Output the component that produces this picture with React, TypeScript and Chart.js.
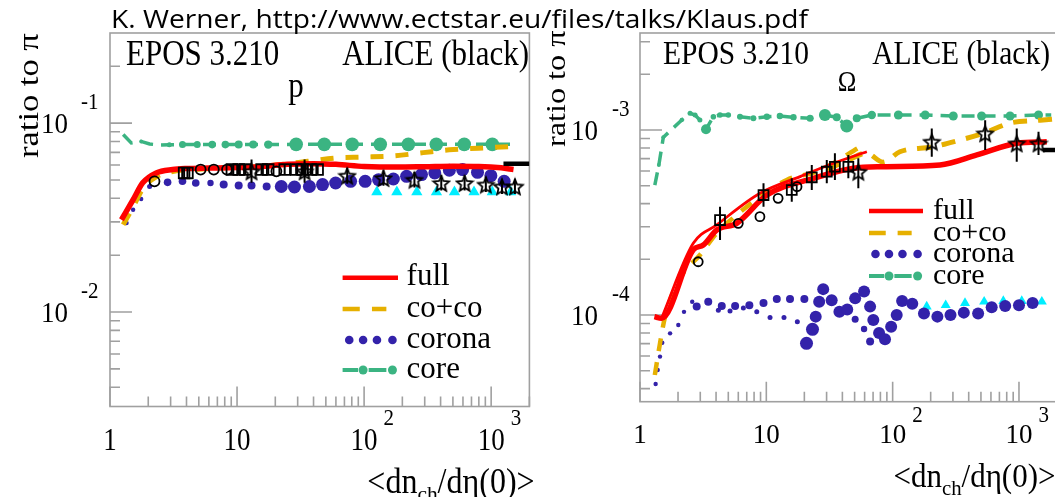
import React, { useEffect, useRef } from 'react';
import { Chart, registerables } from 'chart.js';

Chart.register(...registerables);

const SERIF = '"Liberation Serif", "Times New Roman", serif';
const SANS = '"Open Sans", "Liberation Sans", sans-serif';

const RED = '#ff0000';
const GOLD = '#e6b000';
const BLUE = '#3322aa';
const GREEN = '#3bb482';
const CYAN = '#00eeff';
const FRAME = '#a0a0a0';
const INK = '#000000';

const TITLE = 'K. Werner, http://www.ectstar.eu/files/talks/Klaus.pdf';
const MODEL_LABEL = 'EPOS 3.210';
const DATA_LABEL = 'ALICE (black)';
const Y_TITLE = 'ratio to π';
const LEGEND_LABELS = ['full', 'co+co', 'corona', 'core'];

const xTickVals = [1, 10, 100, 1000];
const xTickBase = ['1', '10', '10', '10'];
const xTickExp = ['', '', '2', '3'];

/* ---------------- p / π ---------------- */
const pYTickVals = [0.01, 0.1];
const pYTickExp = ['-2', '-1'];

const pFullX = [1.23, 1.52, 1.81, 2.31, 3.11, 4, 6, 10, 15, 25, 40, 60, 100, 180, 300, 500, 800, 1200, 1500];
const pFullY = [0.0308, 0.0393, 0.0483, 0.0545, 0.0568, 0.0575, 0.0578, 0.0582, 0.0588, 0.0605, 0.061, 0.0605, 0.059, 0.0585, 0.0588, 0.0592, 0.059, 0.058, 0.0568];

const pCocoX = [1.27, 1.52, 1.81, 2.31, 3.11, 5, 8, 13, 20, 36, 59.6, 99, 170, 292, 467, 796, 1370, 1550];
const pCocoY = [0.029, 0.036, 0.045, 0.052, 0.0555, 0.057, 0.058, 0.0585, 0.06, 0.0628, 0.0654, 0.0661, 0.0671, 0.0698, 0.0722, 0.0737, 0.0751, 0.0755];

const pCoronaX = [1.35, 1.52, 1.76, 2.05, 2.84, 3.72, 4.73, 6.18, 7.85, 10.3, 13.0, 17.1, 22.3, 28.3, 37.1, 47.1, 59.7, 78.3, 102, 130, 170, 216, 283, 360, 469, 596, 781, 995, 1265];
const pCoronaY = [0.0296, 0.0348, 0.0397, 0.0462, 0.0486, 0.0492, 0.0482, 0.0482, 0.0473, 0.0468, 0.0468, 0.0462, 0.0462, 0.0459, 0.0462, 0.0473, 0.0482, 0.0492, 0.0492, 0.0502, 0.0506, 0.0523, 0.0534, 0.0545, 0.0563, 0.0568, 0.0549, 0.0527, 0.0492];
const pCoronaR = [2.2, 2.2, 2.2, 2.5, 3.8, 3.8, 3.8, 3.2, 4, 4, 4, 4, 6.5, 6.5, 6.5, 6.5, 6.5, 6.5, 6.5, 6.5, 6.5, 6.5, 6.5, 6.5, 6.5, 6.5, 6.5, 6.5, 6.5];

const pCoreX = [1.27, 1.47, 1.76, 2.05, 2.5, 2.93, 3.72, 4.86, 6.37, 8.09, 10.3, 13.4, 17.6, 29.2, 48.6, 80.6, 134, 223, 370, 614, 1021, 1506];
const pCoreY = [0.087, 0.0785, 0.08, 0.0775, 0.0765, 0.0768, 0.077, 0.077, 0.077, 0.077, 0.077, 0.077, 0.077, 0.0772, 0.0772, 0.0772, 0.0772, 0.0772, 0.0772, 0.0772, 0.0772, 0.0772];
const pCoreR = [0, 0, 2, 0, 0, 2.5, 3.5, 3.5, 3.8, 3.8, 4, 4, 4.2, 6.8, 6.8, 6.8, 6.8, 6.8, 6.8, 6.8, 6.8, 0];

const pTriX = [126, 181, 260, 371, 514, 733, 1021, 1425];
const pTriY = [0.0432, 0.0432, 0.0432, 0.0432, 0.0432, 0.0432, 0.0432, 0.0432];

const pCircX = [2.24, 5.17, 6.56, 8.34, 20.4];
const pCircY = [0.0492, 0.0568, 0.0568, 0.0568, 0.0556];

const pSqX = [3.83, 4.07, 9.1, 10.3, 11.6, 15.6, 17.6, 23.7, 29.2, 32.8, 38.2, 43.1];
const pSqY = [0.0545, 0.0545, 0.0568, 0.0568, 0.0568, 0.0568, 0.0568, 0.0568, 0.0568, 0.0568, 0.0568, 0.0568];
const pSqLo = [0.0512, 0.0512, 0.0534, 0.0534, 0.0534, 0.0534, 0.0534, 0.0534, 0.0534, 0.0534, 0.0534, 0.0534];
const pSqHi = [0.0578, 0.0578, 0.0602, 0.0602, 0.0602, 0.0602, 0.0602, 0.0602, 0.0602, 0.0602, 0.0602, 0.0602];

const pStarX = [13.0, 34.0, 73.6, 142, 249, 405, 618, 908, 1217, 1539];
const pStarY = [0.0556, 0.0556, 0.0527, 0.0512, 0.0502, 0.0482, 0.0482, 0.0473, 0.0462, 0.0462];
const pStarLo = [0.0483, 0.0483, 0.0478, 0.0466, 0.0457, 0.044, 0.044, 0.0432, 0.0422, 0.0422];
const pStarHi = [0.0642, 0.0642, 0.058, 0.0563, 0.0552, 0.053, 0.053, 0.052, 0.0508, 0.0508];

const pBarX = [1250, 2000];
const pBarY = [0.061, 0.061];

/* ---------------- Ω / π ---------------- */
const oYTickVals = [1e-4, 1e-3];
const oYTickExp = ['-4', '-3'];

const oFullAX = [1.3, 1.48, 2.64, 3.17, 4.05, 5.83, 10.1, 23.6, 48.8, 84.2, 237, 464, 960, 1660];
const oFullAY = [9.8e-5, 9.6e-5, 2.25e-4, 2.39e-4, 2.88e-4, 3.13e-4, 4.45e-4, 5.48e-4, 6.21e-4, 6.33e-4, 6.47e-4, 7.33e-4, 8.47e-4, 8.64e-4];

const oFullBX = [1.48, 2.64, 4.05, 8.9, 18.5, 34, 62.5];
const oFullBY = [9.6e-5, 2.44e-4, 3.07e-4, 4.55e-4, 5.6e-4, 6.61e-4, 7.63e-4];

const oCocoAX = [1.31, 1.44, 1.58, 2.07, 2.98, 4.05, 4.86, 14.5, 25, 58.6];
const oCocoAY = [4.74e-5, 7.03e-5, 9.8e-5, 1.58e-4, 2.11e-4, 2.77e-4, 3.13e-4, 5.37e-4, 5.95e-4, 8.3e-4];

const oCocoBX = [30, 45, 62, 84, 114, 210, 343, 525, 850, 1475, 2000];
const oCocoBY = [6.1e-4, 6.9e-4, 7.5e-4, 6.7e-4, 7.63e-4, 8.12e-4, 8.83e-4, 9.6e-4, 1.09e-3, 1.13e-3, 1.15e-3];

const oCoronaX = [
  1.33, 1.38, 1.44, 1.5, 1.73, 2.01, 2.23, 2.59,
  2.81, 3.47, 4.44, 5.66, 7.34, 9.5, 12.1, 15.4, 20.0,
  4.17, 5.16, 6.58, 8.4, 10.7, 13.8, 17.6,
  20.8, 23.2, 24.6, 26.2, 28.2, 32.9, 37.9, 43.7, 50.5, 50.5, 59.4, 59.4, 66.3, 66.3, 70.3,
  78.1, 87.0, 97.3, 107.7, 118.8, 143, 177, 226, 287, 366, 475, 608, 778, 1000, 1282,
];
const oCoronaY = [
  4.24e-5, 5.04e-5, 5.96e-5, 7.08e-5, 7.96e-5, 8.83e-5, 1.04e-4, 1.18e-4,
  1.11e-4, 1.18e-4, 1.12e-4, 1.12e-4, 1.13e-4, 1.16e-4, 1.22e-4, 1.22e-4, 1.22e-4,
  1.06e-4, 1.05e-4, 1.09e-4, 1.04e-4, 9.7e-5, 9.7e-5, 9.2e-5,
  7.03e-5, 8.37e-5, 9.8e-5, 1.18e-4, 1.38e-4, 1.2e-4, 1.04e-4, 1.07e-4, 1.23e-4, 9.5e-5, 1.34e-4, 8.4e-5, 1.11e-4, 7.18e-5, 9.4e-5,
  8.0e-5, 7.4e-5, 8.65e-5, 1.0e-4, 1.19e-4, 1.15e-4, 1.02e-4, 9.8e-5, 1.0e-4, 1.03e-4, 1.02e-4, 1.1e-4, 1.12e-4, 1.13e-4, 1.16e-4,
];
const oCoronaR = [
  2.2, 2.2, 2.2, 2.2, 2.2, 2.2, 2.2, 2.2,
  4, 4, 4, 4, 4, 4, 4, 4, 4,
  2.5, 2.5, 2.5, 2.5, 2.5, 2.5, 2.5,
  6.5, 6.5, 6, 6, 6, 6, 6, 6, 6, 3.5, 6, 3.2, 6, 4, 6,
  6, 6, 6, 6, 6, 6, 6, 6, 6, 6, 6, 6, 6, 6, 6,
];

const oCoreX = [1.31, 1.41, 1.53, 2.14, 2.49, 2.73, 2.98, 3.33, 3.81, 4.3, 5.0, 6.19, 7.9, 10.1, 12.8, 16.4, 22.2, 29.1, 36.1, 43.3, 52.0, 68.4, 111, 181, 302, 506, 850, 1428, 1800];
const oCoreY = [5.04e-4, 6.47e-4, 9.13e-4, 1.132e-3, 1.231e-3, 1.205e-3, 1.132e-3, 1.009e-3, 1.18e-3, 1.205e-3, 1.205e-3, 1.18e-3, 1.157e-3, 1.18e-3, 1.19e-3, 1.171e-3, 1.157e-3, 1.205e-3, 1.171e-3, 1.051e-3, 1.157e-3, 1.205e-3, 1.205e-3, 1.205e-3, 1.19e-3, 1.19e-3, 1.19e-3, 1.205e-3, 1.205e-3];
const oCoreR = [0, 2, 2, 2.2, 2.5, 2.5, 2.5, 5, 2.8, 2.8, 2.8, 3, 3, 3.2, 3.2, 3.2, 3.5, 6, 4, 6.5, 4, 4.2, 4.5, 4.5, 4.5, 4.5, 4.5, 4.5, 0];

const oTriX = [186, 263, 374, 530, 752, 1052, 1517];
const oTriY = [1.11e-4, 1.13e-4, 1.16e-4, 1.18e-4, 1.19e-4, 1.19e-4, 1.18e-4];

const oCircX = [2.89, 6.0, 8.9, 12.4, 17.5];
const oCircY = [1.94e-4, 3.13e-4, 3.4e-4, 4.27e-4, 4.94e-4];

const oSqX = [4.3, 9.5, 15.9, 22.9, 30.1, 34.9, 44.6];
const oSqY = [3.26e-4, 4.45e-4, 4.74e-4, 5.55e-4, 5.95e-4, 6.33e-4, 6.33e-4];
const oSqLo = [2.54e-4, 3.85e-4, 4.1e-4, 4.74e-4, 5.15e-4, 5.37e-4, 5.48e-4];
const oSqHi = [3.85e-4, 5.15e-4, 5.48e-4, 6.47e-4, 6.89e-4, 7.48e-4, 7.32e-4];

const oStarX = [53.5, 204, 540, 960, 1428];
const oStarY = [5.95e-4, 8.65e-4, 9.6e-4, 8.47e-4, 8.47e-4];
const oStarLo = [4.84e-4, 7.17e-4, 7.8e-4, 6.74e-4, 7.33e-4];
const oStarHi = [7.03e-4, 1.02e-3, 1.13e-3, 1.02e-3, 9.79e-4];

const oBarX = [1550, 2000];
const oBarY = [7.8e-4, 7.8e-4];

/* ---------------- helpers ---------------- */
const pts = (xs: number[], ys: number[]) => xs.map((x, i) => ({ x, y: ys[i] }));

function lineSet(data: any[], color: string, width: number, dash: number[], order: number) {
  return {
    data,
    showLine: true,
    borderColor: color,
    backgroundColor: color,
    borderWidth: width,
    borderDash: dash,
    pointRadius: 0,
    pointHoverRadius: 0,
    cubicInterpolationMode: 'monotone',
    order,
  };
}

function markerSet(data: any[], style: any, radius: any, order: number, fill: string, stroke: string, strokeW: number, extra: any = {}) {
  return {
    data,
    showLine: false,
    pointStyle: style,
    pointRadius: radius,
    pointHoverRadius: radius,
    pointBackgroundColor: fill,
    pointBorderColor: stroke,
    pointBorderWidth: strokeW,
    backgroundColor: fill,
    borderColor: stroke,
    order,
    ...extra,
  };
}

function coreSet(data: any[], radii: number[], order: number) {
  return {
    data,
    showLine: true,
    borderColor: GREEN,
    backgroundColor: GREEN,
    borderWidth: 3.5,
    borderDash: [13, 8],
    pointRadius: radii,
    pointHoverRadius: radii,
    pointBackgroundColor: GREEN,
    pointBorderWidth: 0,
    tension: 0,
    order,
  };
}

// open five-pointed star used for the ALICE high-multiplicity points
function makeStar(size: number, lw: number) {
  const c = document.createElement('canvas');
  c.width = size;
  c.height = size;
  const g = c.getContext('2d')!;
  const cx = size / 2;
  const cy = size / 2 + size * 0.05;
  const R = size / 2 - lw;
  const r = R * 0.45;
  g.beginPath();
  for (let i = 0; i < 10; i++) {
    const ang = -Math.PI / 2 + (i * Math.PI) / 5;
    const rad = i % 2 === 0 ? R : r;
    g.lineTo(cx + rad * Math.cos(ang), cy + rad * Math.sin(ang));
  }
  g.closePath();
  g.lineWidth = lw;
  g.lineJoin = 'miter';
  g.strokeStyle = INK;
  g.stroke();
  return c;
}

type TextOpts = { align?: CanvasTextAlign; sx?: number; sy?: number; rot?: number; font?: string };

function drawText(ctx: CanvasRenderingContext2D, s: string, x: number, y: number, size: number, o: TextOpts = {}) {
  ctx.save();
  ctx.translate(x, y);
  if (o.rot) ctx.rotate(o.rot);
  ctx.scale(o.sx ?? 1, o.sy ?? 1);
  ctx.font = `${size}px ${o.font ?? SERIF}`;
  ctx.fillStyle = INK;
  ctx.textAlign = o.align ?? 'left';
  ctx.textBaseline = 'alphabetic';
  ctx.fillText(s, 0, 0);
  ctx.restore();
}

function measure(ctx: CanvasRenderingContext2D, s: string, size: number, font = SERIF) {
  ctx.save();
  ctx.font = `${size}px ${font}`;
  const w = ctx.measureText(s).width;
  ctx.restore();
  return w;
}

/* ---------------- panel decoration ---------------- */
function decorPlugin(L: any) {
  return {
    id: 'panelDecor',
    beforeDatasetsDraw(chart: any) {
      const { ctx, chartArea: a } = chart;
      const xs = chart.scales.x;
      const ys = chart.scales.y;
      ctx.save();
      ctx.strokeStyle = FRAME;
      ctx.lineWidth = 1.6;
      ctx.strokeRect(a.left, a.top, a.right - a.left, a.bottom - a.top);
      ctx.beginPath();
      for (let d = 1; d <= 1e4; d *= 10) {
        for (let m = 1; m < 10; m++) {
          const v = d * m;
          if (v < xs.min || v > xs.max) continue;
          const px = xs.getPixelForValue(v);
          ctx.moveTo(px, a.bottom);
          ctx.lineTo(px, a.bottom - (m === 1 ? 20 : 10));
        }
      }
      for (let e = -6; e <= 0; e++) {
        for (let m = 1; m < 10; m++) {
          const v = m * Math.pow(10, e);
          if (v < ys.min || v > ys.max * 0.995) continue;
          const py = ys.getPixelForValue(v);
          ctx.moveTo(a.left, py);
          ctx.lineTo(a.left + (m === 1 ? 22 : 10), py);
        }
      }
      ctx.stroke();
      ctx.restore();
    },
    afterDatasetsDraw(chart: any) {
      const { ctx } = chart;
      const xs = chart.scales.x;
      const ys = chart.scales.y;
      ctx.save();
      ctx.strokeStyle = INK;
      ctx.lineWidth = 2;
      ctx.beginPath();
      chart.data.datasets.forEach((ds: any) => {
        if (!ds.errLo) return;
        ds.data.forEach((p: any, j: number) => {
          const px = xs.getPixelForValue(p.x);
          ctx.moveTo(px, ys.getPixelForValue(ds.errLo[j]));
          ctx.lineTo(px, ys.getPixelForValue(ds.errHi[j]));
        });
      });
      ctx.stroke();
      ctx.restore();
    },
    afterDraw(chart: any) {
      const { ctx } = chart;
      const xs = chart.scales.x;
      const ys = chart.scales.y;
      const off = L.offsetX;
      ctx.save();
      ctx.translate(-off, 0);

      // slide caption spanning both panels
      const tw = measure(ctx, TITLE, 25, SANS);
      drawText(ctx, TITLE, 111, 28.3, 25, { font: SANS, sx: 697 / tw });

      // header line
      drawText(ctx, MODEL_LABEL, L.headerLeftX, L.headerBase, L.headerSize, { sy: 1.15 });
      drawText(ctx, DATA_LABEL, L.headerRightX, L.headerBase, L.headerSize, { sy: 1.15, align: 'right' });
      drawText(ctx, L.particle, L.particleX, L.particleBase, L.particleSize, { sy: 1.15, align: 'center' });

      // y axis title
      drawText(ctx, Y_TITLE, L.yTitleX, L.yTitleY, L.yTitleSize, { rot: -Math.PI / 2, sx: 1.15 });

      // y tick labels
      L.yTickVals.forEach((v: number, i: number) => {
        const py = ys.getPixelForValue(v);
        drawText(ctx, '10', L.yLabelRight, py + 10, 27, { align: 'right', sy: 1.12 });
        drawText(ctx, L.yTickExp[i], L.ySupLeft, py - 14, 21, { sy: 1.1 });
      });

      // x tick labels
      xTickVals.forEach((v: number, i: number) => {
        const px = xs.getPixelForValue(v) + off;
        drawText(ctx, xTickBase[i], px, L.xLabelBase, L.xLabelSize, { align: 'center', sy: L.xLabelSy });
        if (xTickExp[i]) {
          const half = measure(ctx, xTickBase[i], L.xLabelSize) / 2;
          drawText(ctx, xTickExp[i], px + half + 6, L.xLabelBase - L.xSupRise, 21, { sy: 1.05 });
        }
      });

      // x axis title  <dn_ch/dη(0)>
      const s = L.xTitleSize;
      const sub = s * 0.67;
      const a1 = '<dn';
      const a2 = 'ch';
      const a3 = '/dη(0)>';
      const w1 = measure(ctx, a1, s);
      const w2 = measure(ctx, a2, sub);
      const w3 = measure(ctx, a3, s);
      let tx = L.xTitleRight - (w1 + w2 + w3);
      drawText(ctx, a1, tx, L.xTitleBase, s, { sy: 1.1 });
      tx += w1;
      drawText(ctx, a2, tx, L.xTitleBase + 8, sub);
      tx += w2;
      drawText(ctx, a3, tx, L.xTitleBase, s, { sy: 1.1 });

      // legend
      const x0 = L.legendX0;
      const len = L.legendX1 - L.legendX0;
      const rows = L.legendRows;
      ctx.lineCap = 'butt';
      // full
      ctx.strokeStyle = RED;
      ctx.lineWidth = 4.5;
      ctx.beginPath();
      ctx.moveTo(x0, rows[0]);
      ctx.lineTo(x0 + len, rows[0]);
      ctx.stroke();
      // co+co
      ctx.strokeStyle = GOLD;
      ctx.beginPath();
      ctx.moveTo(x0, rows[1]);
      ctx.lineTo(x0 + 0.31 * len, rows[1]);
      ctx.moveTo(x0 + 0.53 * len, rows[1]);
      ctx.lineTo(x0 + 0.79 * len, rows[1]);
      ctx.stroke();
      // corona
      ctx.fillStyle = BLUE;
      [0.12, 0.37, 0.62, 0.9].forEach((f) => {
        ctx.beginPath();
        ctx.arc(x0 + f * len, rows[2], 4.3, 0, Math.PI * 2);
        ctx.fill();
      });
      // core
      ctx.strokeStyle = GREEN;
      ctx.fillStyle = GREEN;
      ctx.lineWidth = 4;
      ctx.beginPath();
      ctx.moveTo(x0, rows[3]);
      ctx.lineTo(x0 + 0.28 * len, rows[3]);
      ctx.moveTo(x0 + 0.47 * len, rows[3]);
      ctx.lineTo(x0 + 0.79 * len, rows[3]);
      ctx.stroke();
      [0.37, 0.9].forEach((f) => {
        ctx.beginPath();
        ctx.arc(x0 + f * len, rows[3], 4.5, 0, Math.PI * 2);
        ctx.fill();
      });
      LEGEND_LABELS.forEach((t, i) => {
        drawText(ctx, t, L.legendTextX, rows[i] + 7.6, L.legendSize);
      });

      ctx.restore();
    },
  };
}

function buildConfig(L: any, datasets: any[]) {
  return {
    type: 'scatter',
    data: { datasets },
    options: {
      animation: false,
      responsive: false,
      maintainAspectRatio: false,
      events: [],
      layout: { padding: L.padding },
      scales: {
        x: { type: 'logarithmic', min: 1, max: 2000, bounds: 'data', display: false },
        y: { type: 'logarithmic', min: L.yMin, max: L.yMax, bounds: 'data', display: false },
      },
      plugins: {
        legend: { display: false },
        tooltip: { enabled: false },
        colors: { enabled: false },
      },
    },
    plugins: [decorPlugin(L)],
  };
}

const protonLayout = {
  offsetX: 0,
  padding: { left: 110, right: 5.8, top: 33, bottom: 90.5 },
  yMin: Math.pow(10, -2.5),
  yMax: 0.3,
  yTickVals: pYTickVals,
  yTickExp: pYTickExp,
  headerLeftX: 126,
  headerRightX: 529,
  headerBase: 65,
  headerSize: 31,
  particle: 'p',
  particleX: 296,
  particleBase: 97,
  particleSize: 31,
  yTitleX: 38,
  yTitleY: 158,
  yTitleSize: 30,
  yLabelRight: 68,
  ySupLeft: 81,
  xLabelBase: 450,
  xLabelSize: 27,
  xLabelSy: 1.2,
  xSupRise: 25.5,
  xTitleRight: 534.6,
  xTitleBase: 493,
  xTitleSize: 32,
  legendX0: 342.6,
  legendX1: 398,
  legendTextX: 406.6,
  legendRows: [277.8, 308.9, 340, 370],
  legendSize: 31,
};

const omegaLayout = {
  offsetX: 540,
  padding: { left: 100, right: 23, top: 33, bottom: 95.3 },
  yMin: Math.pow(10, -4.4686),
  yMax: Math.pow(10, -2.4757),
  yTickVals: oYTickVals,
  yTickExp: oYTickExp,
  headerLeftX: 663,
  headerRightX: 1050,
  headerBase: 63.5,
  headerSize: 29.5,
  particle: 'Ω',
  particleX: 847,
  particleBase: 91,
  particleSize: 25,
  yTitleX: 565,
  yTitleY: 147,
  yTitleSize: 28,
  yLabelRight: 598,
  ySupLeft: 612,
  xLabelBase: 443,
  xLabelSize: 27,
  xLabelSy: 1.05,
  xSupRise: 21,
  xTitleRight: 1055.5,
  xTitleBase: 486.5,
  xTitleSize: 31,
  legendX0: 869,
  legendX1: 923,
  legendTextX: 933,
  legendRows: [211, 233, 254, 276],
  legendSize: 30,
};

function protonDatasets(star: HTMLCanvasElement) {
  return [
    markerSet(pts(pStarX, pStarY), star, 9, 0, 'rgba(0,0,0,0)', INK, 1.6, { errLo: pStarLo, errHi: pStarHi }),
    markerSet(pts(pSqX, pSqY), 'rect', 7.5, 1, 'rgba(0,0,0,0)', INK, 1.8, { errLo: pSqLo, errHi: pSqHi }),
    markerSet(pts(pCircX, pCircY), 'circle', 5, 2, 'rgba(0,0,0,0)', INK, 1.8),
    { ...lineSet(pts(pBarX, pBarY), INK, 4.5, [], 3), cubicInterpolationMode: 'default' },
    lineSet(pts(pFullX, pFullY), RED, 5.5, [], 5),
    lineSet(pts(pCocoX, pCocoY), GOLD, 5, [13, 12], 6),
    markerSet(pts(pCoronaX, pCoronaY), 'circle', pCoronaR, 7, BLUE, BLUE, 0),
    markerSet(pts(pTriX, pTriY), 'triangle', 6.5, 8, CYAN, CYAN, 0),
    coreSet(pts(pCoreX, pCoreY), pCoreR, 9),
  ];
}

function omegaDatasets(star: HTMLCanvasElement) {
  return [
    markerSet(pts(oStarX, oStarY), star, 9, 0, 'rgba(0,0,0,0)', INK, 1.6, { errLo: oStarLo, errHi: oStarHi }),
    markerSet(pts(oSqX, oSqY), 'rect', 7, 1, 'rgba(0,0,0,0)', INK, 1.8, { errLo: oSqLo, errHi: oSqHi }),
    markerSet(pts(oCircX, oCircY), 'circle', 4.5, 2, 'rgba(0,0,0,0)', INK, 1.8),
    { ...lineSet(pts(oBarX, oBarY), INK, 4.5, [], 3), cubicInterpolationMode: 'default' },
    lineSet(pts(oFullAX, oFullAY), RED, 5.5, [], 4),
    lineSet(pts(oFullBX, oFullBY), RED, 2.8, [], 5),
    lineSet(pts(oCocoAX, oCocoAY), GOLD, 4.5, [13, 11], 6),
    lineSet(pts(oCocoBX, oCocoBY), GOLD, 5, [14, 11], 6),
    markerSet(pts(oCoronaX, oCoronaY), 'circle', oCoronaR, 7, BLUE, BLUE, 0),
    markerSet(pts(oTriX, oTriY), 'triangle', 5.8, 8, CYAN, CYAN, 0),
    coreSet(pts(oCoreX, oCoreY), oCoreR, 9),
  ];
}

export default function App() {
  const leftRef = useRef<HTMLCanvasElement>(null);
  const rightRef = useRef<HTMLCanvasElement>(null);

  useEffect(() => {
    const star = makeStar(20, 1.8);
    const charts = [
      new Chart(leftRef.current!, buildConfig(protonLayout, protonDatasets(star)) as any),
      new Chart(rightRef.current!, buildConfig(omegaLayout, omegaDatasets(star)) as any),
    ];
    return () => charts.forEach((c) => c.destroy());
  }, []);

  return (
    <div
      style={{
        position: 'fixed',
        left: 0,
        top: 0,
        width: 1055,
        height: 497,
        overflow: 'hidden',
        background: '#ffffff',
      }}
    >
      <canvas ref={leftRef} width={540} height={497} style={{ position: 'absolute', left: 0, top: 0 }} />
      <canvas ref={rightRef} width={540} height={497} style={{ position: 'absolute', left: 540, top: 0 }} />
    </div>
  );
}
